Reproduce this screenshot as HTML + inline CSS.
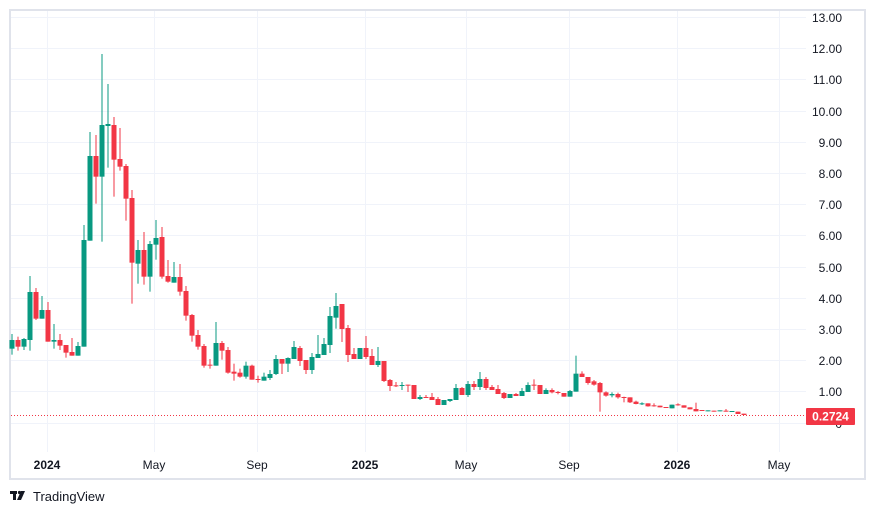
<!DOCTYPE html>
<html><head><meta charset="utf-8"><style>
html,body{margin:0;padding:0;background:#fff;width:874px;height:515px;overflow:hidden;font-family:"Liberation Sans",sans-serif}
</style></head><body>
<svg id="s" width="874" height="515" xmlns="http://www.w3.org/2000/svg" style="position:absolute;left:0;top:0">
<rect x="10" y="10" width="855" height="469" fill="#fff" stroke="#e0e3eb" stroke-width="2"/>
<g id="grid" stroke="#f0f3fa" stroke-width="1"></g>
<g id="c"></g>
<line x1="11" y1="415.5" x2="806" y2="415.5" stroke="#f23645" stroke-width="1" stroke-dasharray="1,2"/>
<g id="lab" font-size="12" fill="#131722" font-family="Liberation Sans, sans-serif"></g>
<rect x="806" y="408" width="49" height="17" fill="#f23645" rx="1"/>
<text x="830.5" y="420.5" font-size="12" fill="#fff" text-anchor="middle" font-weight="bold" font-family="Liberation Sans, sans-serif">0.2724</text>
<g font-family="Liberation Sans, sans-serif" font-size="12" fill="#131722">
<text x="47" y="469" text-anchor="middle" font-weight="bold">2024</text>
<text x="154" y="469" text-anchor="middle">May</text>
<text x="257" y="469" text-anchor="middle">Sep</text>
<text x="365" y="469" text-anchor="middle" font-weight="bold">2025</text>
<text x="466" y="469" text-anchor="middle">May</text>
<text x="569" y="469" text-anchor="middle">Sep</text>
<text x="677" y="469" text-anchor="middle" font-weight="bold">2026</text>
<text x="779" y="469" text-anchor="middle">May</text>
</g>
<g fill="#131722">
<rect x="10" y="491" width="7" height="3"/><rect x="13" y="491" width="3" height="9"/>
<circle cx="19.5" cy="492.5" r="1.6"/>
<polygon points="21,491 25,491 21,500 17,500"/>
</g>
<text x="33" y="501" font-size="13" fill="#131722" font-family="Liberation Sans, sans-serif">TradingView</text>
</svg>
<script>
var NS="http://www.w3.org/2000/svg";
function el(p,t,a){var e=document.createElementNS(NS,t);for(var k in a)e.setAttribute(k,a[k]);p.appendChild(e);return e;}
var grid=document.getElementById("grid"),lab=document.getElementById("lab");
for(var i=0;i<=13;i++){var y=Math.round(422.5-31.2*i)+0.5;
 el(grid,"line",{x1:11,x2:806,y1:y,y2:y});
 var t=el(lab,"text",{x:842,y:y+4.5,"text-anchor":"end"});t.textContent=i==0?"0":i.toFixed(2);}
[47,154,257,365,466,569,677,779].forEach(function(x){el(grid,"line",{x1:x+0.5,x2:x+0.5,y1:11,y2:452});});
// [green, bodyTop, bodyBot, wickTop, wickBot] in zoom units
var z1=[[1,900,926,882,944],[0,900,920,890,932],[1,897,920,894,930],[1,756,900,708,932],[0,756,836,744,840],[1,810,836,768,836],[0,810,905,786,905],[1,900,905,852,926],[0,900,917,882,930],[0,915,938,915,953],[0,936,947,894,947],[1,918,947,906,947],[1,600,920,555,920],[1,348,602,276,602],[0,348,410,285,491],[1,255,410,42,605],[1,252,258,132,383],[0,255,359,231,470],[0,357,380,264,392],[0,378,476,372,542],[0,474,668,450,791],[1,630,671,600,731],[0,630,710,576,734],[1,612,710,603,755],[1,594,614,540,659],[0,591,710,561,716],[0,708,725,660,728],[1,711,728,666,728],[0,711,755,672,767],[0,753,827,738,842],[0,825,887,822,905],[0,885,920,870,929],[0,918,977,912,983],[0,974,977,957,986],[1,909,977,846,977],[0,909,932,903,959],[0,930,998,921,1001],[0,995,1001,971,1022],[0,998,1010,986,1013],[1,977,1010,965,1016],[0,977,1019,974,1019],[0,1017,1019,1007,1028],[1,1010,1022,998,1022]];
var z2=[[1,282,294,270,300],[1,237,282,225,285],[0,237,251,237,282],[1,234,251,232,276],[1,201,237,183,237],[0,204,243,198,258],[0,240,270,240,282],[1,231,270,219,282],[1,222,234,165,234],[1,192,225,174,225],[1,108,195,81,219],[1,78,113,39,146],[0,72,147,72,186],[0,144,225,135,246],[0,222,237,204,237],[1,204,237,204,237],[0,204,231,168,237],[0,228,255,207,255],[1,243,255,201,261],[0,243,303,243,306],[0,300,318,297,333],[0,316,319,306,321],[1,315,318,306,330],[0,314,317,314,336],[0,315,357,315,357],[1,351,357,345,360],[0,351,354,345,354],[0,351,360,339,360],[0,357,375,351,375],[1,360,375,360,375],[1,357,363,357,366],[1,324,360,312,360],[0,324,345,321,345],[1,312,345,303,351],[0,312,321,303,330],[1,297,321,276,330],[0,297,324,291,330],[0,321,330,315,330],[0,327,342,315,342],[0,339,354,336,357],[1,342,354,342,354],[0,342,348,339,348],[1,333,348,324,348]];
var z3=[[1,135,156,127,156],[0,134,137,118,150],[0,135,162,135,162],[1,150,162,145,162],[0,150,157,145,160],[0,156,159,153,163],[0,159,170,159,170],[1,153,170,150,170],[1,101,155,47,155],[0,101,111,94,111],[0,111,129,111,134],[0,124,134,120,137],[0,129,157,126,215],[0,157,167,154,170],[1,162,166,157,172],[0,162,172,158,176],[0,171,174,170,187],[0,172,187,172,189],[0,185,192,182,193],[1,190,193,187,195],[0,190,199,190,200],[0,196,199,190,200],[0,197,202,197,202],[0,201,204,201,204],[1,194,205,194,205],[0,193,196,190,197],[0,196,203,196,203],[0,202,208,202,208],[0,207,214,188,214],[0,210,213,210,213],[1,211,214,211,214],[0,212,215,212,215],[1,211,214,211,214],[0,212,215,207,215],[1,213,216,213,216],[0,215,222,215,222],[0,221,225,221,225]];
var c=document.getElementById("c");
function draw(arr,k0,oy){arr.forEach(function(d,i){var k=k0+i;var x=12+6*(k-1);var col=d[0]?"#089981":"#f23645";
 var bt=oy+d[1]/3,bb=oy+d[2]/3,wt=oy+d[3]/3,wb=oy+d[4]/3;if(bb-bt<1){bb=bt+1;}
 el(c,"rect",{x:x-0.5,y:wt,width:1,height:Math.max(wb-wt,1),fill:col});
 el(c,"rect",{x:x-2.5,y:bt,width:5,height:bb-bt,fill:col});});}
draw(z1,1,40);draw(z2,44,280);draw(z3,87,340);
</script>
</body></html>
